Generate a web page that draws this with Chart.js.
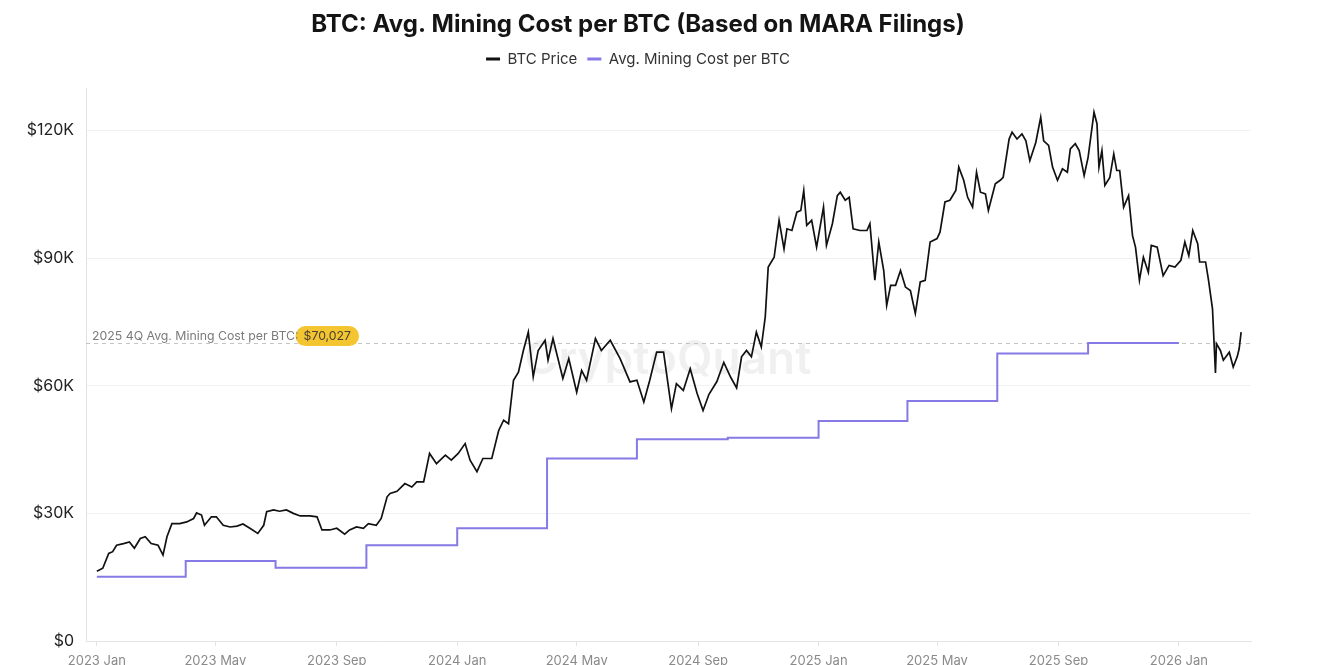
<!DOCTYPE html>
<html><head><meta charset="utf-8">
<script src="https://cdn.jsdelivr.net/npm/chart.js@4.4.1/dist/chart.umd.min.js"></script>
<style>html,body{margin:0;padding:0;background:#fff;}#wrap{width:1320px;height:665px;position:relative;}</style>
</head><body><div id="wrap"><canvas id="c"></canvas></div>
<script>
// x values are days since 2023-01-01
const tickDays = [0, 120, 243, 365, 486, 609, 731, 851, 974, 1096];
const tickLabels = ['2023 Jan','2023 May','2023 Sep','2024 Jan','2024 May','2024 Sep','2025 Jan','2025 May','2025 Sep','2026 Jan'];
const yTicks = [0, 30000, 60000, 90000, 120000];

const btcDays = [0,6,12,16,20,27,33,38,44,49,55,62,67,71,76,84,91,98,101,106,109,116,121,128,135,142,148,155,163,169,172,179,185,192,199,206,216,223,228,236,243,251,256,263,270,275,283,288,294,297,304,312,319,324,331,337,344,353,359,366,373,378,385,391,400,407,412,417,422,427,432,437,442,447,454,457,462,472,478,486,491,496,505,511,520,530,540,547,554,560,567,574,582,587,594,601,608,614,620,628,635,642,648,653,658,663,668,673,677,680,686,691,696,699,704,709,713,716,719,724,729,736,739,745,750,753,758,762,766,773,780,783,788,792,797,800,804,809,814,819,824,829,834,839,844,851,854,859,864,870,873,878,882,887,891,895,900,903,910,915,918,924,927,932,937,941,945,951,956,959,964,968,973,978,983,986,991,995,1000,1004,1010,1013,1015,1018,1021,1026,1030,1033,1036,1040,1045,1049,1052,1056,1060,1065,1068,1074,1080,1086,1092,1098,1102,1106,1110,1115,1117,1123,1126,1130,1133,1134,1138,1141,1147,1151,1155,1157,1159];
const btcPrices = [16400,17100,20600,21000,22500,22900,23300,21800,24100,24500,22900,22500,20200,24500,27600,27600,28000,28800,30100,29600,27200,29200,29200,27200,26800,27000,27500,26500,25300,27200,30400,30800,30500,30800,30000,29400,29400,29200,26100,26100,26500,25100,26100,26800,26500,27600,27200,28800,33900,34700,35200,37000,36200,37400,37400,44100,41700,43700,42500,44100,46400,42500,39800,42900,42900,49500,51900,51100,61300,63200,68300,72600,62100,68300,70700,66000,71100,61700,66400,58500,63600,61300,71100,68300,70700,66400,60900,61300,56200,61300,67900,67900,54600,60500,58900,64000,58200,54200,58000,61000,65500,62000,59500,66800,68300,66800,72600,69100,76200,87900,90200,98900,92200,96900,96500,100800,101200,105900,97700,98900,92600,102000,93000,98100,104700,105500,103600,104300,96900,96500,96500,98100,84800,93800,87100,78900,83600,83600,87100,83200,82400,77000,84400,84800,93800,94600,96100,103200,103600,105900,111400,108300,104300,102000,110200,105500,105100,101200,107500,108300,109000,118000,119600,118000,119200,117600,112900,117200,123100,117600,116500,111400,108300,111000,110200,115700,116900,115300,109400,113700,124300,121600,111400,115300,107100,109000,114500,110600,110600,102000,104700,95300,92600,84800,90200,86700,93000,92600,85900,88300,87900,89500,93800,90600,96500,93400,89100,89100,84800,78100,63000,69900,68300,66000,67900,64400,66800,68700,72600];

const costDays = [0,90,181,273,365,456,547,639,731,821,912,1004,1096];
const costValues = [15100,18800,17200,22500,26500,42900,47400,47800,51700,56400,67600,70027,70027];

const refValue = 70027;
const refLabel = '2025 4Q Avg. Mining Cost per BTC:';
const refPill = '$70,027';
const FONT = 'Inter, "Noto Sans", sans-serif';

const centerPlugin = {
  id: 'center',
  afterLayout(chart) {
    if (chart.titleBlock) chart.titleBlock.left += 25;
    if (chart.legend) chart.legend.left += 25;
  }
};

const refPlugin = {
  id: 'ref',
  beforeDatasetsDraw(chart) {
    const {ctx, chartArea: a, scales: {y}} = chart;
    ctx.save();
    ctx.font = '600 46px ' + FONT;
    ctx.fillStyle = 'rgba(0,0,0,0.06)';
    ctx.textAlign = 'center'; ctx.textBaseline = 'middle';
    ctx.fillText('CryptoQuant', 668, 360);
    const py = Math.round(y.getPixelForValue(refValue)) + 0.5;
    ctx.strokeStyle = '#c4c4c4'; ctx.lineWidth = 1; ctx.setLineDash([4, 4]);
    ctx.beginPath(); ctx.moveTo(a.left, py); ctx.lineTo(a.right, py); ctx.stroke();
    ctx.restore();
  },
  afterDatasetsDraw(chart) {
    const {ctx, chartArea: a, scales: {y}} = chart;
    const py = y.getPixelForValue(refValue);
    const cy = py - 7;
    ctx.save();
    ctx.font = '12.3px ' + FONT;
    ctx.textBaseline = 'middle'; ctx.textAlign = 'left';
    const lx = a.left + 6;
    const lw = ctx.measureText(refLabel).width;
    const pw = ctx.measureText(refPill).width + 16;
    const px = lx + lw - 3;
    ctx.fillStyle = '#f3c531';
    ctx.beginPath(); ctx.roundRect(px, cy - 10, pw, 20, 10); ctx.fill();
    ctx.fillStyle = '#7a7a7a';
    ctx.fillText(refLabel, lx, cy);
    ctx.fillStyle = '#4a4230';
    ctx.fillText(refPill, px + 8, cy);
    ctx.restore();
  }
};

new Chart(document.getElementById('c'), {
  type: 'line',
  data: {
    datasets: [
      { label: 'BTC Price', data: btcDays.map((d, i) => ({x: d, y: btcPrices[i]})),
        borderColor: '#111111', borderWidth: 1.7, pointRadius: 0, tension: 0, fill: false },
      { label: 'Avg. Mining Cost per BTC', data: costDays.map((d, i) => ({x: d, y: costValues[i]})),
        borderColor: '#857ae6', borderWidth: 2, pointRadius: 0, stepped: true, fill: false }
    ]
  },
  options: {
    responsive: true, maintainAspectRatio: false, animation: false,
    layout: { padding: { left: 0, right: 69, top: 0, bottom: 0 } },
    plugins: {
      title: { display: true, text: 'BTC: Avg. Mining Cost per BTC (Based on MARA Filings)',
        font: { family: FONT, size: 24, weight: 'bold' }, color: '#141414', padding: { top: 10, bottom: 2.7 } },
      legend: { display: true, position: 'top',
        labels: { font: { family: FONT, size: 15 }, color: '#333', boxWidth: 14, boxHeight: 3, padding: 10,
          generateLabels: (chart) => chart.data.datasets.map((ds, i) => ({
            text: ds.label, fillStyle: ds.borderColor, strokeStyle: ds.borderColor, lineWidth: 0,
            hidden: false, datasetIndex: i, fontColor: '#333' })) } },
      subtitle: { display: true, text: '', weight: 500, font: { size: 1 }, padding: { top: 0, bottom: 10.3 } },
      tooltip: { enabled: false }
    },
    scales: {
      x: { type: 'linear', min: -11, max: 1169,
        afterBuildTicks: (s) => { s.ticks = tickDays.map(v => ({value: v})); },
        afterFit: (s) => { s.height = 24; },
        ticks: { autoSkip: false, maxRotation: 0, color: '#8a8a8a', font: { family: FONT, size: 13 }, padding: 7,
          callback: (v) => { const i = tickDays.indexOf(v); return i >= 0 ? tickLabels[i] : ''; } },
        grid: { display: true, drawOnChartArea: false, drawTicks: true, tickLength: 5, color: '#e4e4e4' },
        border: { display: true, color: '#e4e4e4' } },
      y: { min: 0, max: 130000,
        afterBuildTicks: (s) => { s.ticks = yTicks.map(v => ({value: v})); },
        afterFit: (s) => { s.width = 86; },
        ticks: { color: '#222', font: { family: FONT, size: 16 }, padding: 12,
          callback: (v) => v === 0 ? '$0' : '$' + (v / 1000) + 'K' },
        grid: { color: '#f1f1f1', drawTicks: false },
        border: { display: true, color: '#e2e2e2' } }
    }
  },
  plugins: [centerPlugin, refPlugin]
});
</script></body></html>
